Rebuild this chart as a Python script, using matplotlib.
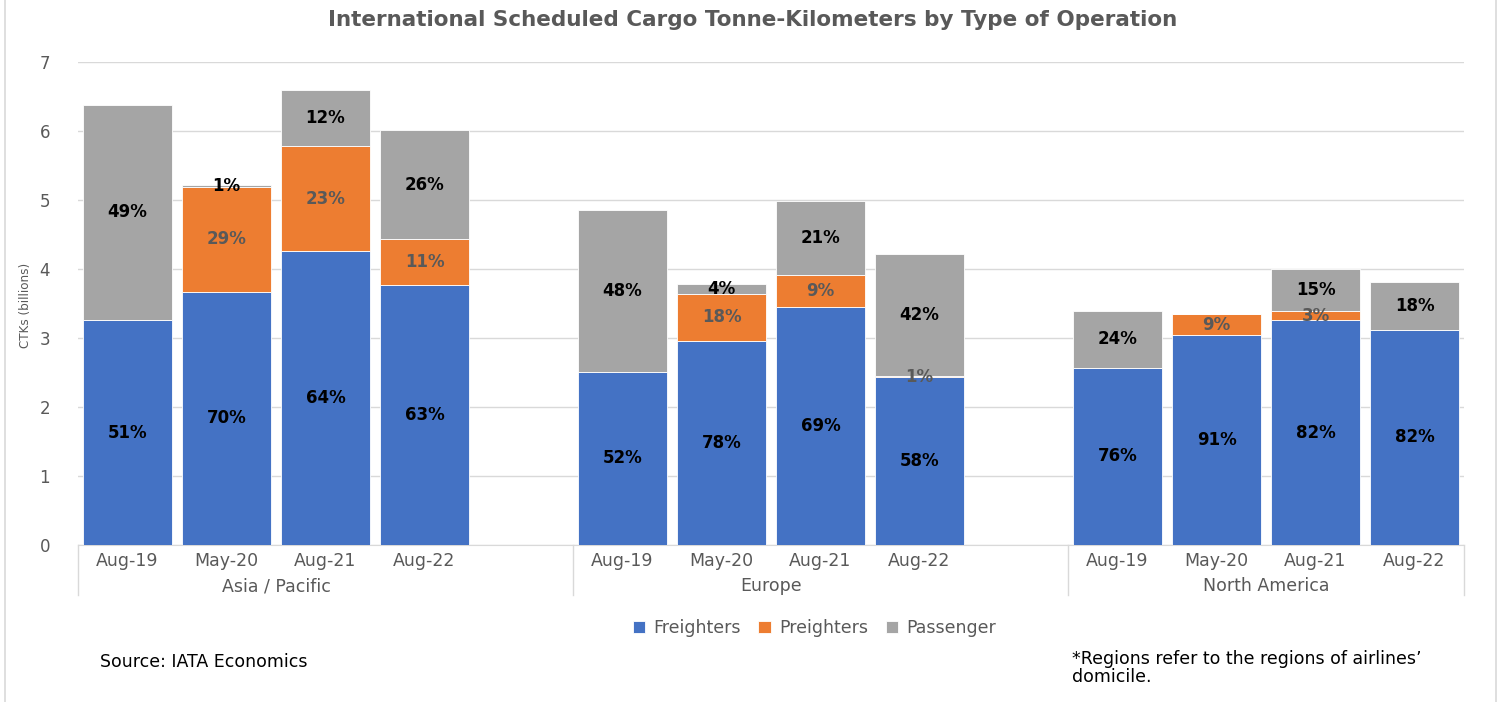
import matplotlib
matplotlib.use("Agg")
import matplotlib.pyplot as plt
import numpy as np
from matplotlib.lines import Line2D

regions = ["Asia / Pacific", "Europe", "North America"]
periods = ["Aug-19", "May-20", "Aug-21", "Aug-22"]

# CTKs (billions) per region, per period
freighters = [[3.26, 3.67, 4.26, 3.77],
              [2.51, 2.96, 3.45, 2.43],
              [2.57, 3.04, 3.26, 3.12]]
preighters = [[0.00, 1.52, 1.52, 0.66],
              [0.00, 0.68, 0.46, 0.02],
              [0.00, 0.31, 0.13, 0.00]]
passenger = [[3.12, 0.03, 0.81, 1.58],
             [2.35, 0.14, 1.08, 1.77],
             [0.82, 0.00, 0.61, 0.69]]

freighter_labels = [["51%", "70%", "64%", "63%"],
                    ["52%", "78%", "69%", "58%"],
                    ["76%", "91%", "82%", "82%"]]
preighter_labels = [["", "29%", "23%", "11%"],
                    ["", "18%", "9%", "1%"],
                    ["", "9%", "3%", ""]]
passenger_labels = [["49%", "1%", "12%", "26%"],
                    ["48%", "4%", "21%", "42%"],
                    ["24%", "", "15%", "18%"]]

series_names = ["Freighters", "Preighters", "Passenger"]
colors = ["#4472C4", "#ED7D31", "#A5A5A5"]
label_colors = ["#000000", "#595959", "#000000"]

plt.rcParams['font.family'] = ['DejaVu Sans']

fig = plt.figure(figsize=(15, 7.02), dpi=100)
ax = fig.add_axes([0.052, 0.2236, 0.924, 0.6881])

n_per = len(periods)
xs, xlabels = [], []
for r in range(len(regions)):
    for p in range(n_per):
        xs.append(r * (n_per + 1) + p)
        xlabels.append(periods[p])
xs = np.array(xs, dtype=float)

F = np.array(freighters).ravel()
P = np.array(preighters).ravel()
S = np.array(passenger).ravel()
FL = np.array(freighter_labels).ravel()
PL = np.array(preighter_labels).ravel()
SL = np.array(passenger_labels).ravel()

width = 0.9
bottoms = np.zeros_like(F)
for vals, labs, col, lcol, name in zip([F, P, S], [FL, PL, SL], colors, label_colors, series_names):
    ax.bar(xs, vals, width, bottom=bottoms, color=col, edgecolor="white",
           linewidth=0.6, label=name, zorder=3)
    for x, v, b, lab in zip(xs, vals, bottoms, labs):
        if lab:
            ax.text(x, b + v / 2, lab, ha="center", va="center", fontsize=12,
                    fontweight="bold", color=lcol, zorder=4)
    bottoms = bottoms + vals

ax.set_ylim(0, 7)
ax.set_xlim(-0.5, xs[-1] + 0.5)
ax.set_yticks(range(0, 8))
ax.yaxis.grid(True, color="#D9D9D9", linewidth=1, zorder=0)
ax.set_axisbelow(True)
ax.tick_params(axis="y", length=0, labelsize=12, labelcolor="#595959", pad=20)
ax.set_xticks(xs)
ax.set_xticklabels(xlabels)
ax.tick_params(axis="x", length=0, labelsize=12.5, labelcolor="#595959", pad=5)
for s in ["top", "right", "left"]:
    ax.spines[s].set_visible(False)
ax.spines["bottom"].set_color("#D9D9D9")

# group labels and separators
trans = ax.get_xaxis_transform()
sep_positions = [-0.5, n_per + 0.5, 2 * (n_per + 1) - 0.5, xs[-1] + 0.5]
for sx in sep_positions:
    ax.add_line(Line2D([sx, sx], [0, -0.1035], transform=trans, color="#D9D9D9",
                       linewidth=1, clip_on=False))
for r, reg in enumerate(regions):
    cx = r * (n_per + 1) + (n_per - 1) / 2
    ax.text(cx, -0.085, reg, transform=trans, ha="center", va="center",
            fontsize=12.5, color="#595959")

fig.text(0.5015, 0.971, "International Scheduled Cargo Tonne-Kilometers by Type of Operation",
         ha="center", va="center", fontsize=15.5, fontweight="bold", color="#595959")
fig.text(0.0167, 0.5655, "CTKs (billions)", rotation=90, ha="center", va="center",
         fontsize=9.5, color="#595959", family=["Liberation Sans Narrow", "DejaVu Sans"],
         stretch="condensed")

fig.legend(loc="center", bbox_to_anchor=(0.543, 0.105), ncol=3, frameon=False,
           fontsize=12.5, handlelength=0.7, handleheight=0.7, columnspacing=1.0,
           handletextpad=0.5, labelcolor="#595959")

fig.text(0.0667, 0.057, "Source: IATA Economics", ha="left", va="center",
         fontsize=12.5, color="#000000")
fig.text(0.7147, 0.049, "*Regions refer to the regions of airlines’\ndomicile.",
         ha="left", va="center", fontsize=12.5, color="#000000", linespacing=1.0)

for fx in [0.0035, 0.997]:
    fig.add_artist(Line2D([fx, fx], [0, 1], transform=fig.transFigure,
                          color="#D9D9D9", linewidth=1.2))

fig.savefig("out.png", dpi=100, facecolor="white")
